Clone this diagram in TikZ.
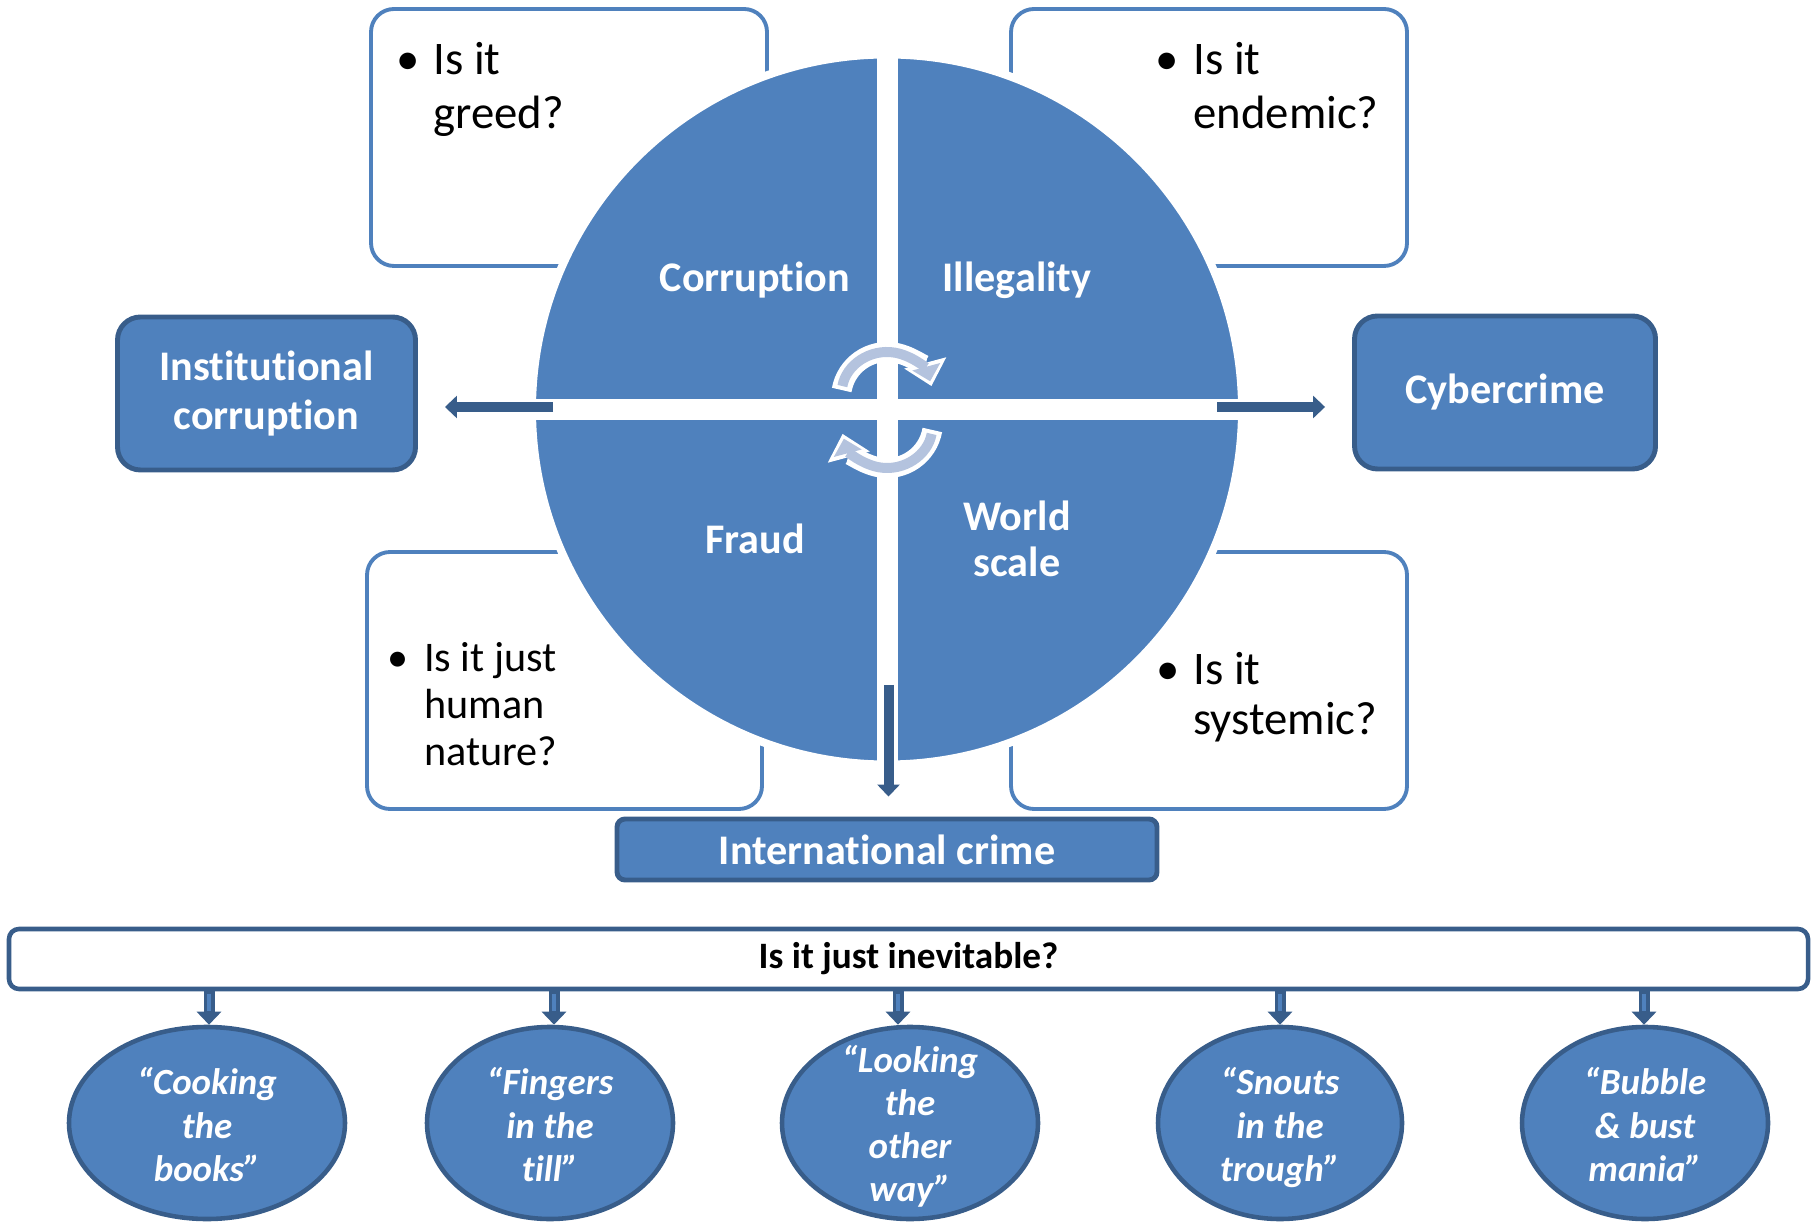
\documentclass[tikz,border=0pt]{standalone}
\usepackage{fontspec}
\setmainfont{Carlito}[Ligatures=NoCommon]
\usetikzlibrary{arrows.meta,shapes.geometric}

\definecolor{qblue}{HTML}{4F81BD}
\definecolor{qdark}{HTML}{385D8A}
\definecolor{qlight}{HTML}{B4C3DE}

\begin{document}
\begin{tikzpicture}[
  qbox/.style={draw=qblue,line width=1.1pt,rounded corners=0.23cm,fill=white,minimum width=3.96cm,minimum height=2.57cm},
  term/.style={draw=qdark,line width=1.4pt,rounded corners=0.23cm,fill=qblue,text=white,align=center,
    font=\fontsize{12}{14.2}\selectfont\bfseries,minimum width=2.98cm,minimum height=1.53cm},
  quad/.style={text=white,align=center,font=\fontsize{12}{13}\selectfont\bfseries},
  ask/.style={anchor=base west,inner sep=0pt},
  saying/.style={ellipse,draw=qdark,line width=1.3pt,fill=qblue,text=white,inner sep=0pt,
    minimum height=1.92cm,font=\fontsize{10.5}{12.3}\selectfont\bfseries\itshape},
  flow/.style={-{Triangle[width=0.22cm,length=0.12cm]},line width=0.1cm,qdark},
  drop/.style={-{Triangle[width=0.24cm,length=0.13cm]},line width=0.11cm,qdark},
  dropin/.style={line width=0.04cm,qblue,shorten >=0.14cm,shorten <=0.03cm},
  spinrim/.style={white,line width=0.2cm,-{Triangle[width=0.42cm,length=0.24cm]}},
  spin/.style={qlight,line width=0.1cm,-{Triangle[width=0.28cm,length=0.15cm]},shorten >=0.05cm,shorten <=0.04cm}
]
  \useasboundingbox (0,0) rectangle (18.14,12.21);

  % question boxes behind the wheel
  \node[qbox] (greedbox) at (5.69,10.835) {};
  \node[qbox] (endembox) at (12.09,10.835) {};
  \node[qbox,minimum width=3.95cm] (naturebox) at (5.645,5.405) {};
  \node[qbox] (systembox) at (12.09,5.405) {};

  \node[ask,font=\fontsize{13.3}{15.3}\selectfont] (greed) at (3.955,11.46)
    {\begin{tabular}[t]{@{}l@{\hspace{0.14cm}}l@{}}\textbullet & Is it\\ & greed?\end{tabular}};
  \node[ask,font=\fontsize{13.3}{15.3}\selectfont] (endemic) at (11.55,11.46)
    {\begin{tabular}[t]{@{}l@{\hspace{0.145cm}}l@{}}\textbullet & Is it\\ & endemic?\end{tabular}};
  \node[ask,font=\fontsize{12}{13.4}\selectfont] (nature) at (3.865,5.50)
    {\begin{tabular}[t]{@{}l@{\hspace{0.16cm}}l@{}}\textbullet & Is it just\\ & human\\ & nature?\end{tabular}};
  \node[ask,font=\fontsize{13.3}{14.2}\selectfont] (systemic) at (11.555,5.36)
    {\begin{tabular}[t]{@{}l@{\hspace{0.14cm}}l@{}}\textbullet & Is it\\ & systemic?\end{tabular}};

  % the wheel
  \node[circle,fill=qblue,draw=white,line width=0.08cm,minimum size=7.1cm] (wheel) at (8.87,8.115) {};
  \fill[white] ([xshift=-0.105cm]wheel.north) rectangle ([xshift=0.105cm]wheel.south);
  \fill[white] ([yshift=0.105cm]wheel.west) rectangle ([yshift=-0.105cm]wheel.east);

  \node[quad] (corr) at (7.55,9.41) {Corruption};
  \node[quad] (illeg) at (10.17,9.41) {Illegality};
  \node[quad] (fraud) at (7.55,6.82) {Fraud};
  \node[quad] (world) at (10.17,6.82) {World\\scale};

  % cycle arrows
  \coordinate (upc) at (8.87,8.23);
  \coordinate (lowc) at (8.87,7.99);
  \draw[spinrim] ([shift={(170:0.46)}]upc) arc[start angle=170,end angle=15,radius=0.46];
  \draw[spin] ([shift={(170:0.46)}]upc) arc[start angle=170,end angle=15,radius=0.46];
  \draw[spinrim] ([shift={(-10:0.46)}]lowc) arc[start angle=-10,end angle=-165,radius=0.46];
  \draw[spin] ([shift={(-10:0.46)}]lowc) arc[start angle=-10,end angle=-165,radius=0.46];

  % outcomes
  \node[term] (inst) at (2.665,8.275) {Institutional\\corruption};
  \node[term,minimum width=3.01cm] (cyber) at (15.05,8.285) {Cybercrime};
  \node[term,minimum width=5.4cm,minimum height=0.61cm,rounded corners=0.08cm] (intl) at (8.87,3.715) {International crime};

  \coordinate (wl) at (5.53,8.14);
  \coordinate (wr) at (12.17,8.14);
  \coordinate (wd) at (8.885,5.36);
  \draw[flow,shorten >=0.27cm] (wl) -- (wl -| inst.east);
  \draw[flow,shorten >=0.27cm] (wr) -- (wr -| cyber.west);
  \draw[flow,shorten >=0.2cm] (wd) -- (wd |- intl.north);

  % bottom row
  \node[draw=qdark,line width=1.3pt,rounded corners=0.1cm,fill=white,minimum width=17.99cm,minimum height=0.6cm,
    font=\fontsize{10.6}{12}\selectfont\bfseries] (bar) at (9.085,2.62) {Is it just inevitable?};

  \node[saying,minimum width=2.76cm] (cook) at (2.07,0.98)
    {\smash{\raisebox{-0.16cm}{\begin{tabular}{@{}c@{}}“Cooking\\the\\books”\end{tabular}}}};
  \node[saying,minimum width=2.46cm] (fing) at (5.50,0.98)
    {\smash{\raisebox{-0.16cm}{\begin{tabular}{@{}c@{}}“Fingers\\in the\\till”\end{tabular}}}};
  \node[saying,minimum width=2.56cm] (look) at (9.10,0.98)
    {\smash{\raisebox{-0.15cm}{\begin{tabular}{@{}c@{}}“Looking\\the\\other\\way”\end{tabular}}}};
  \node[saying,minimum width=2.44cm] (snout) at (12.80,0.98)
    {\smash{\raisebox{-0.16cm}{\begin{tabular}{@{}c@{}}“Snouts\\in the\\trough”\end{tabular}}}};
  \node[saying,minimum width=2.46cm] (bubble) at (16.45,0.98)
    {\smash{\raisebox{-0.16cm}{\begin{tabular}{@{}c@{}}“Bubble\\\& bust\\mania”\end{tabular}}}};

  \foreach \e/\x in {cook/2.09,fing/5.54,look/8.98,snout/12.80,bubble/16.44} {
    \draw[drop] (bar.south -| \x,0) -- (\x,0 |- \e.north);
    \draw[dropin] (bar.south -| \x,0) -- (\x,0 |- \e.north);
  }
\end{tikzpicture}
\end{document}
